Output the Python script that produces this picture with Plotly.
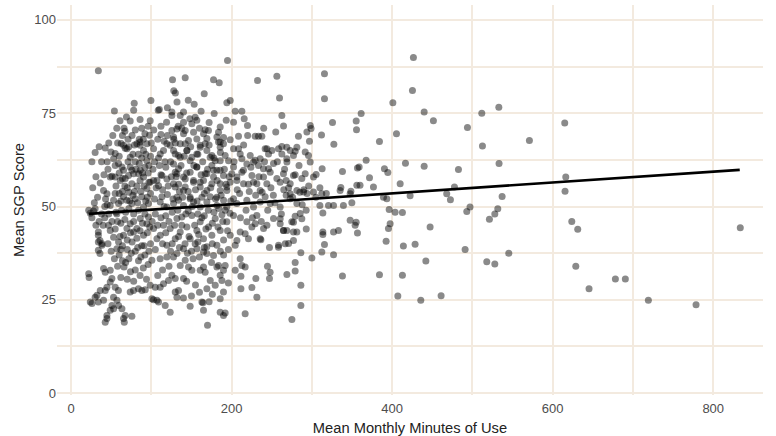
import plotly.graph_objects as go

# ---- data (Mean Monthly Minutes of Use, Mean SGP Score) ----
band_under_100 = [
    (22, 49.0), (24, 48.2), (28, 48.8), (30, 49.4), (26, 47.0),
    (34, 43.2), (34, 42.3), (36, 40.9), (38.5, 40.0), (34, 38.3), (36, 37.4), (38.5, 39.6), (34, 40.5),
    (22, 32.0), (22.5, 31.0), (40.5, 33.4), (42.6, 32.4), (48.8, 32.9), (50.9, 30.7), (48.8, 29.8),
    (55, 28.4), (59, 27.5), (42.6, 27.5), (44.7, 28.4), (36.4, 27.5), (32.3, 26.2), (26, 24.0), (24, 24.4),
    (34, 24.4), (30, 25.7), (40.5, 24.9), (52.9, 25.7), (57.2, 24.9), (59.2, 23.5), (50.9, 23.5), (48.8, 22.2),
    (44.7, 20.8), (42.6, 19.0), (44.7, 20.0), (53, 22.6), (63.4, 22.6), (67.5, 20.8), (65.4, 20.0), (66.3, 19.0),
    (75.8, 20.6), (73.7, 27.1), (77.8, 27.5), (84, 28.0), (88.3, 27.5), (92.4, 27.7), (98.6, 28.9),
    (36.4, 56.3), (40.5, 54.3), (44.7, 53.4), (34, 86.4), (42.6, 65.7), (49.7, 64.6), (55, 64.2), (54, 75.6),
    (51, 58.1), (55, 57.9), (61.3, 57.0), (67.5, 57.5), (53, 62.8), (59.2, 61.5), (63.4, 60.6), (65.4, 59.7),
    (71.6, 58.3), (75.8, 59.7), (73.7, 60.6), (62.5, 66.9), (65.4, 66.4), (67.5, 65.6), (78.7, 77.7), (99.5, 78.4),
    (78, 75.8), (73.7, 72.9), (86, 73.3), (98.6, 73.0), (66, 71.0), (67, 70.2), (97.8, 69.1), (85, 68.0),
    (86, 67.3), (69.6, 65.5), (73.7, 63.2), (82, 66.8), (86.2, 66.4), (94.5, 66.8), (90.3, 65.0), (94.5, 62.3),
    (48.8, 57.9), (55, 61.0), (77.9, 58.8), (75.8, 56.1), (84.1, 58.8), (86.2, 59.7), (90.3, 57.9), (94.5, 54.8),
    (98.6, 56.5), (80, 62), (88, 63), (92, 60.5), (96, 59), (82, 55.5), (70, 55), (64, 54), (60, 53.5),
    (48.8, 50.3), (53, 51.7), (59.2, 50.8), (69.6, 51.7), (65.4, 52.6), (75.8, 50.8), (80, 52.1), (88.1, 52.6),
    (90.3, 49.9), (96.5, 50.8), (57, 48), (63, 49), (68, 48.5), (72, 49.5), (84, 49), (78, 48),
    (46.7, 45.0), (48.8, 43.6), (53, 41.8), (59.2, 40.5), (57.1, 38.7), (65.4, 42.3), (69.6, 44.1), (73.7, 45.4),
    (77.9, 43.2), (82, 44.1), (86.2, 46.8), (90.3, 42.3), (94.5, 45.4), (96.5, 47.2), (62, 45.5), (60, 37),
    (64, 35.5), (70, 38.5), (72, 36), (76, 40.5), (80, 38), (84, 35.5), (88, 39.5), (92, 37), (96, 34.5),
    (99, 40), (66, 33.8), (74, 32.5), (80, 33), (86, 31.5), (90, 33.5), (94, 30.5), (70, 30.5), (78, 30), (62, 31),
    (43, 52), (46, 60), (38, 48), (42, 47), (40, 45), (58, 67), (76, 69), (80, 70.5), (88, 71), (92, 69.5),
    (96, 71.5), (71, 68), (60, 63.5), (84, 64), (99, 63.5), (64, 57.5), (87, 54), (91, 55.5), (95, 52.5),
    (99, 53.5), (79, 54), (72, 53.8), (56, 55.5), (60, 59),
    (38, 62), (41, 58.5), (45, 62), (47, 67), (52, 69), (57, 71), (61, 73), (64, 69), (69, 74), (72, 66),
    (77, 64), (81, 60), (85, 61.5), (89, 59), (93, 64), (97, 61), (100, 67), (42, 50), (47, 48), (51, 46),
    (55, 44), (58, 46), (61, 42), (64, 39.5), (67, 46.5), (70, 41), (74, 43), (78, 46), (82, 41.5), (86, 43.5),
    (89, 45.5), (92, 48), (95, 43), (98, 44.5), (46, 40), (50, 38), (54, 36), (58, 34), (62, 38.5), (68, 35),
    (75, 37.5), (83, 39), (87, 36.5), (91, 39.5), (97, 38), (55, 53.5), (62, 51.5), (67, 55.5), (73, 51.5),
    (77, 53), (83, 51), (86, 57), (93, 51.5), (97, 56.5), (71, 62), (79, 66.5), (90, 68), (56, 48.5),
    (45, 50.5), (35, 46), (31, 45), (29, 51), (33, 52.5), (27, 55), (31, 58), (26, 62), (30, 64.5), (35, 66),
]

band_100_200 = [
    (126.4, 84.0), (130, 80.4), (128, 81), (132, 78), (108.6, 75.8), (110, 76), (125.6, 75.3), (119, 72.6),
    (125.6, 70.4), (112, 69.3), (133.5, 71.5), (142.2, 84.5), (177.5, 84.0), (184.6, 83.2), (165.9, 80.2),
    (153.4, 77.4), (194.1, 77.8), (198.3, 78.4), (178.3, 74.9), (193.3, 73.1), (185.8, 71.3), (183.7, 69.9),
    (181.7, 68.6), (185.8, 67.3), (189.9, 66.8), (167.1, 70.6), (169.2, 68.2), (198.3, 67.9), (194.9, 89.1),
    (140.1, 75.3), (136, 74.4), (125.6, 74.4), (154.6, 73.9), (156.7, 73.1), (150.5, 72.2), (140.1, 72.6),
    (131.8, 70.8), (142.2, 70.4), (140.1, 69.5), (152.6, 69.9), (165, 69.5), (171.2, 70.4), (127.7, 68.6),
    (146.3, 67.7), (156.7, 68.1), (136, 66.8), (127.7, 65), (144.3, 65), (160.9, 65.9), (173.3, 63.2),
    (175.4, 61), (185.8, 62.3), (177.5, 59.7), (167.1, 58.8), (156.7, 60.6), (148.4, 62.3), (136, 63.2),
    (127.7, 61.4), (131.8, 58.8), (142.2, 57.4), (152.6, 57), (160.9, 55.2), (129.7, 55.2), (140.1, 54.3),
    (169.2, 54.3), (185.8, 56.1), (194.1, 54.3), (181.6, 52.5), (163, 52.5), (148.4, 52.5), (131.8, 52.5),
    (198.2, 56.5), (189.9, 58.3), (185.8, 59.7),
    (102.8, 65.5), (111.1, 64.1), (115.2, 65.0), (119.4, 66.8), (123.5, 66.4), (129.8, 64.1), (133.9, 63.7),
    (142.2, 66.8), (144.3, 65.0), (150.5, 63.2), (156.7, 64.1), (160.9, 66.4), (167.1, 66.8), (169.2, 65.0),
    (175.4, 63.7), (179.6, 62.3), (185.8, 65.9), (183.7, 67.3), (192, 63.7), (196.2, 62.3),
    (102.8, 57.0), (109, 55.6), (113.2, 58.3), (119.4, 57.4), (127.7, 56.1), (129.8, 59.2), (133.9, 60.1),
    (140.1, 57.9), (142.2, 55.2), (148.4, 59.2), (152.6, 56.5), (156.7, 60.6), (160.9, 56.5), (165, 57.0),
    (169.2, 58.8), (175.4, 56.1), (177.5, 57.9), (181.7, 59.7), (185.8, 54.3), (194.1, 55.2),
    (111.1, 51.2), (113.2, 52.6), (119.4, 49.9), (127.7, 50.8), (133.9, 51.7), (140.1, 50.3), (148.4, 52.1),
    (152.6, 51.2), (160.9, 49.9), (169.2, 51.2), (173.4, 52.6), (181.7, 50.3), (190, 51.7), (194.1, 49.9),
    (102.8, 44.1), (107, 41.4), (111.1, 42.3), (115.2, 45.0), (119.4, 39.6), (123.5, 44.1), (129.8, 41.4),
    (131.9, 46.8), (136, 43.2), (140.1, 38.7), (144.3, 44.5), (148.4, 41.4), (150.5, 47.6), (154.6, 40.0),
    (156.7, 43.6), (160.9, 45.9), (165, 41.4), (169.2, 39.2), (171.3, 44.5), (175.4, 42.3), (179.6, 46.8),
    (181.7, 39.6), (185.8, 43.6), (190, 41.0), (194.1, 45.9), (198.3, 42.3),
    (105, 48), (118, 47.5), (126, 48.5), (138, 47.2), (146, 48.8), (158, 48), (166, 47.5), (178, 48.5),
    (188, 47.8), (198, 48.2),
    (100.7, 25.3), (107, 24.9), (109, 24.4), (117.3, 23.5), (129.8, 27.1), (131.9, 25.7), (123.5, 21.7),
    (104.9, 28.4), (111, 28.4), (115.2, 29.3), (121.4, 30.2), (125.6, 31.6), (129.8, 30.7), (102.7, 25.0),
    (133.9, 27.5), (140.1, 30.7), (146.3, 33.8), (150.5, 32.9), (136, 34.2), (142.2, 35.6), (127.6, 36.5),
    (131.9, 37.4), (169.2, 37.4), (177.5, 36.9), (165, 37.8), (156.8, 38.7), (165, 33.8), (160.9, 32.9),
    (167.1, 32.4), (183.7, 34.2), (192, 34.2), (185.8, 25.3), (189.9, 27.1), (187.9, 30.2), (185.8, 31.6),
    (189.9, 32.9), (181.7, 33.8), (173.4, 30.2), (169.2, 28.0), (179.6, 28.9), (148.4, 23.3), (165, 22.2),
    (163, 24.4), (170, 18.2), (189.9, 20.8), (192, 21.5), (185.8, 21.7), (164.3, 24.2),
    (100.7, 35.6), (111, 36.0), (119.4, 36.5), (105, 38.5), (114, 33), (122, 34), (108, 31.5), (135, 39),
    (145, 37.5), (152, 36), (160, 36.5), (175, 35), (196, 38.5), (190, 37), (144, 30), (155, 29), (160, 27),
    (150, 26), (140, 25.5), (172, 24.5), (176, 26.5), (196, 29.5),
    (103, 70.5), (108, 68), (116, 67.5), (120, 69), (128, 68), (104, 62), (110, 61), (118, 60.5), (124, 62),
    (131, 58), (106, 55), (114, 54.5), (120, 53.2), (135, 54), (102, 60), (112, 58.5),
    (101, 46), (104, 52), (107, 57), (109, 63), (112, 47), (114, 40), (116, 50), (117, 62), (121, 55.5),
    (122, 46), (124, 38), (125, 58), (127, 52), (129, 45), (130, 67), (133, 49), (134, 56), (137, 61),
    (138, 45), (139, 52.5), (141, 63.5), (143, 48), (144, 59), (146, 54), (147, 42), (149, 66), (151, 50),
    (153, 61), (154, 45), (155, 54.5), (157, 51.5), (158, 64), (159, 42.5), (162, 58.5), (163, 47), (164, 62),
    (166, 53.5), (168, 44), (170, 60), (171, 49), (172, 66.5), (174, 55), (176, 45.5), (178, 63), (180, 52),
    (182, 57), (183, 44.5), (184, 49.5), (186, 64.5), (187, 53), (189, 46), (191, 60), (192, 49), (193, 56),
    (195, 43.5), (197, 58), (199, 51.5), (108, 45), (118, 43), (126, 40), (134, 42), (142, 40), (150, 38),
    (158, 40.5), (166, 39), (176, 40), (186, 38), (112, 71.5), (138, 71), (148, 73.5), (160, 71), (172, 72.5),
    (190, 68.5), (120, 76.5), (146, 78.5), (162, 75.5),
]

band_200_300 = [
    (204.5, 75.5), (212.8, 75.5), (202.4, 72.6), (215.7, 73.5), (219.8, 71.7), (208.6, 68.8), (229.4, 68.8),
    (233.5, 68.8), (237.7, 68.8), (244, 65.5), (250.2, 65.0), (262.6, 66.1), (208.6, 65.5), (229.4, 62.4),
    (233.5, 61.0), (239.7, 60.1), (246, 60.1), (252.2, 61.5), (256.4, 57.5), (260.5, 56.5), (264.6, 58.8),
    (214.8, 59.7), (206.6, 57.9), (227.3, 56.5), (256.4, 84.9), (232.3, 83.8), (259.7, 79.1), (262.6, 74.4),
    (264.7, 71.6), (298, 71.7), (299, 70.9), (293.8, 70.0), (283.3, 68.8), (297, 67.5), (268.8, 65.9),
    (279.2, 64.8), (291.7, 64.6), (295.8, 63.7), (297.9, 61.9), (268.9, 61.9), (268, 57), (279.2, 58.5),
    (287.5, 57.5), (291.7, 58.8),
    (202.4, 65.5), (210.7, 64.1), (212.8, 62.8), (223.2, 63.7), (227.3, 61.9), (235.6, 62.8), (241.8, 65.5),
    (246, 64.1), (258.5, 65.5), (262.6, 64.1), (268.8, 62.8), (273, 65.0), (277.1, 63.7), (281.3, 65.9),
    (200.3, 58.8), (202.4, 60.6), (206.6, 57.0), (212.8, 59.2), (214.9, 56.1), (219, 61.4), (225.3, 58.3),
    (231.5, 56.1), (235.6, 54.3), (239.8, 57.9), (243.9, 56.1), (248.1, 59.2), (273, 56.1), (277.1, 58.3),
    (281.3, 54.3),
    (202.4, 52.1), (206.6, 50.8), (219, 51.7), (227.3, 49.9), (235.6, 51.2), (241.8, 52.6), (248.1, 50.8),
    (260.5, 49.9), (273, 52.1), (281.3, 50.8),
    (202.4, 47.6), (204.5, 39.6), (210.7, 43.2), (219, 45.9), (225.3, 44.5), (231.5, 47.6), (235.6, 41.4),
    (239.8, 44.1), (252.2, 46.8), (258.5, 39.6), (264.7, 43.6), (271, 40.1), (275, 45.9), (281.3, 43.2),
    (260.5, 46.7), (260.5, 45.4), (244, 45.0), (229.4, 45.4), (268.9, 43.6), (216.9, 42.7), (221, 41.4),
    (236.5, 41.1), (206.6, 40.9), (247.2, 39.0), (258.4, 39.1), (266.8, 40.0), (210.7, 36.0), (212.8, 34.2),
    (204.5, 32.9), (216.9, 33.8), (211.6, 31.3), (244.7, 34.0), (248, 32.4), (247.2, 30.7), (268.9, 31.8),
    (230.2, 30.7), (225.3, 28.3), (211.6, 28.0), (231.5, 25.7), (216.9, 21.3),
    (292.9, 49.0), (285.4, 48.1), (279.2, 47.4), (277.1, 45.8), (287.5, 46.7), (264.6, 43.6), (277.1, 43.2),
    (277.1, 40.9), (286.3, 37.6), (279.2, 35.0), (279.2, 32.7), (286.3, 28.9), (286.3, 23.5), (275.1, 19.7),
    (268, 53), (276, 52.5), (290, 54.5), (296, 55.5), (294, 53.5), (285, 53.8), (210, 53.5), (222, 54),
    (238, 53.8), (252, 53), (265, 54.5), (273, 53.4), (289.6, 53.9),
    (203, 62), (207, 54.5), (211, 47), (215, 66.5), (218, 49), (221, 56), (224, 60.5), (226, 47), (230, 53),
    (234, 58), (237, 46), (241, 62), (245, 49), (249, 55), (254, 51), (257, 62), (262, 48), (266, 60),
    (271, 55), (284, 61), (288, 50.5), (293, 44), (220, 69), (240, 71), (255, 70),
]

band_300_450 = [
    (315.7, 85.6), (425.3, 81.1), (426.5, 89.9), (315.7, 78.9), (400.9, 77.8), (439.9, 75.3), (361.4, 74.9),
    (325.7, 72.5), (355.2, 72.9), (355.6, 70.6), (405.4, 69.5), (312, 69.2), (327.4, 66.7), (384.2, 67.4),
    (367.6, 62.4), (416.6, 61.6), (439.9, 60.8), (358.9, 60.6), (356.8, 60.3), (312.8, 60.1), (338.1, 59.4),
    (390.4, 60.1), (394.6, 59.1), (371.8, 57.7), (302, 57.9), (305.3, 58.6), (410, 56.1), (336.1, 55.1),
    (376.7, 55.2), (356, 55.7), (360, 55.7), (348.6, 54.1), (310, 55), (318, 53.5), (305, 52.5),
    (310, 50.3), (327, 50.3), (320.7, 50.3), (339.3, 50.3), (349.8, 51), (313.7, 48.3), (347.7, 46.3),
    (355.2, 45.8), (353.9, 45.0), (356.8, 42.9), (313.7, 43.2), (313.7, 42.5), (327, 43.2), (333.1, 43.6),
    (315.7, 39.8), (312.4, 37.8), (300, 36.2), (327, 37.1), (338.1, 31.4), (384.2, 31.7), (412.8, 31.6),
    (407.1, 26.0), (435.7, 24.9), (442, 35.4), (392.5, 40.7), (414, 39.4), (428.6, 39.9), (395.4, 44.1),
    (397.5, 45.4), (396.3, 49.2), (403.7, 48.5), (412.8, 48.4), (302, 53.9), (312.4, 53.4), (335.2, 54.3),
    (347.7, 53.4), (389.2, 52.5), (393.4, 52.1), (422.4, 52.9), (447.3, 44.5),
]

band_over_450 = [
    (451.4, 73.0), (511.7, 75.0), (532.9, 76.6), (493.8, 71.2), (512.5, 66.2), (571, 67.7), (615, 72.4),
    (482.6, 59.9), (533.2, 61.5), (616.3, 57.9), (615.4, 54.1), (477.6, 55.2), (468, 53.4), (472.6, 51.8),
    (537, 52.7), (497, 49.9), (493, 48.7), (531.6, 49.4), (527.9, 48.0), (521.2, 46.6), (623.8, 46.0),
    (631.2, 43.9), (833.7, 44.3), (490.9, 38.5), (545.3, 37.5), (517.9, 35.2), (527.9, 34.6), (628.8, 34.0),
    (678.1, 30.6), (690.5, 30.6), (645.3, 28.0), (461, 26.1), (719.2, 24.9), (778.6, 23.7),
]

# fitted linear trend (lm)
trend_x = [22, 833]
trend_intercept = 47.7
trend_slope = 0.01455

x_ticks = [0, 200, 400, 600, 800]
y_ticks = [0, 25, 50, 75, 100]

points = band_under_100 + band_100_200 + band_200_300 + band_300_450 + band_over_450
minutes = [p[0] for p in points]
sgp = [p[1] for p in points]
trend_y = [trend_intercept + trend_slope * v for v in trend_x]

grid_col = "#f3eadf"

fig = go.Figure()
fig.add_trace(go.Scatter(
    x=minutes, y=sgp, mode="markers",
    marker=dict(size=7, color="rgba(0,0,0,0.46)", line=dict(width=0)),
    hoverinfo="x+y", showlegend=False,
))
fig.add_trace(go.Scatter(
    x=trend_x, y=trend_y, mode="lines",
    line=dict(color="#000000", width=2.6), showlegend=False,
))

fig.update_layout(
    width=776, height=436,
    margin=dict(l=57, r=13, t=5, b=41),
    paper_bgcolor="white", plot_bgcolor="white",
    font=dict(family="Liberation Sans, Arial, sans-serif", color="#4d4d4d", size=13),
)
fig.update_xaxes(
    range=[-17.5, 862], tickvals=x_ticks, ticktext=[str(v) for v in x_ticks],
    showgrid=True, gridcolor=grid_col, gridwidth=1.5,
    minor=dict(dtick=100, tick0=0, showgrid=True, gridcolor=grid_col, gridwidth=1.5),
    zeroline=False, showline=False, ticks="", ticklabelstandoff=4,
    title=dict(text="Mean Monthly Minutes of Use", font=dict(size=14.7, color="#222222"), standoff=8),
    automargin=False,
)
fig.update_yaxes(
    range=[-0.5, 104], tickvals=y_ticks, ticktext=[str(v) for v in y_ticks],
    showgrid=True, gridcolor=grid_col, gridwidth=1.5,
    minor=dict(dtick=12.5, tick0=0, showgrid=True, gridcolor=grid_col, gridwidth=1.5),
    zeroline=False, showline=False, ticks="",
    title=dict(text="Mean SGP Score", font=dict(size=14.7, color="#222222"), standoff=6),
    automargin=False,
)

fig.write_html(
    "out.html",
    config={"displayModeBar": False},
    post_script="document.body.style.margin='0';document.body.style.overflow='hidden';",
)
